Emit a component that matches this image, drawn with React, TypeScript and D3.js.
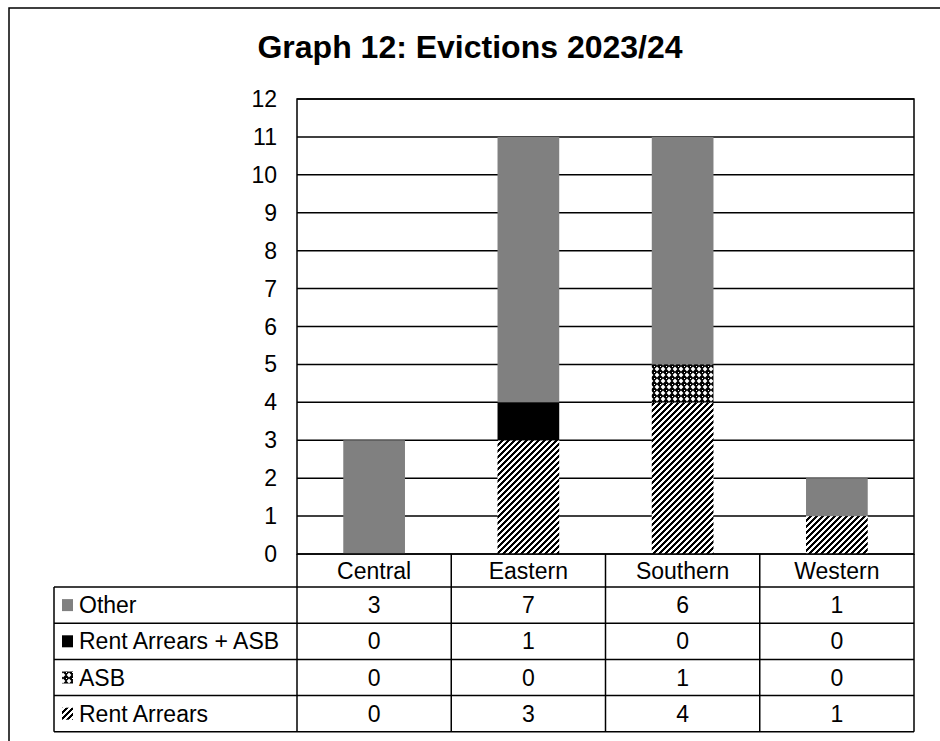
import React, { useEffect, useRef } from 'react';
import * as d3 from 'd3';

const categories = ['Central', 'Eastern', 'Southern', 'Western'];
const seriesNames = ['Rent Arrears', 'ASB', 'Rent Arrears + ASB', 'Other'];
const rentArrears = [0, 3, 4, 1];
const asb = [0, 0, 1, 0];
const rentArrearsAsb = [0, 1, 0, 0];
const other = [3, 7, 6, 1];
const yTicks = [0, 1, 2, 3, 4, 5, 6, 7, 8, 9, 10, 11, 12];
const title = 'Graph 12: Evictions 2023/24';

const W = 940;
const H = 741;
const FONT = 'Liberation Sans, Arial, sans-serif';
const FS = 23;

const App = () => {
  const svgRef = useRef<SVGSVGElement>(null);

  useEffect(() => {
    const svg = d3.select(svgRef.current);
    svg.selectAll('*').remove();

    const left = 297, right = 914, top = 99, bottom = 554;
    const tableLeft = 54;
    const headerBottom = 587;
    const rowH = 36.2;

    // patterns (pixel-based so they stay crisp)
    const defs = svg.append('defs');
    const diag = defs.append('pattern').attr('id', 'pat-ra')
      .attr('width', 6).attr('height', 6)
      .attr('patternUnits', 'userSpaceOnUse');
    diag.append('rect').attr('width', 6).attr('height', 6).attr('fill', '#fff');
    for (let r = 0; r < 6; r++) {
      for (let k = 0; k < 3; k++) {
        diag.append('rect').attr('x', (5 - r + k) % 6).attr('y', r)
          .attr('width', 1).attr('height', 1).attr('fill', '#000')
          .attr('shape-rendering', 'crispEdges');
      }
    }

    const conf = defs.append('pattern').attr('id', 'pat-asb')
      .attr('width', 6).attr('height', 6)
      .attr('patternUnits', 'userSpaceOnUse');
    conf.append('rect').attr('width', 6).attr('height', 6).attr('fill', '#000');
    conf.append('path').attr('d', 'M3,0.6 L5.4,3 L3,5.4 L0.6,3 Z').attr('fill', '#fff');
    conf.append('rect').attr('x', 0).attr('y', 0).attr('width', 1).attr('height', 1).attr('fill', '#fff');

    const fills = ['url(#pat-ra)', 'url(#pat-asb)', '#000000', '#808080'];

    // frame
    svg.append('rect').attr('x', 9).attr('y', 8).attr('width', W + 20).attr('height', H + 20)
      .attr('fill', 'none').attr('stroke', '#000').attr('stroke-width', 1.5);

    svg.append('text').attr('x', 470).attr('y', 58).attr('text-anchor', 'middle')
      .attr('font-family', FONT).attr('font-weight', 'bold').attr('font-size', 32)
      .text(title);

    const x = d3.scaleBand<string>().domain(categories).range([left, right]);
    const y = d3.scaleLinear().domain([0, 12]).range([bottom, top]);

    // gridlines
    svg.append('g').selectAll('line').data(yTicks).join('line')
      .attr('x1', left).attr('x2', right)
      .attr('y1', d => y(d)).attr('y2', d => y(d))
      .attr('stroke', '#000').attr('stroke-width', 1.5);

    // y labels
    svg.append('g').selectAll('text').data(yTicks).join('text')
      .attr('x', 277).attr('y', d => y(d)).attr('dy', '0.35em')
      .attr('text-anchor', 'end').attr('font-family', FONT).attr('font-size', FS)
      .text(d => d);

    // stacked bars
    const rows = categories.map((c, i) => ({
      cat: c,
      'Rent Arrears': rentArrears[i],
      'ASB': asb[i],
      'Rent Arrears + ASB': rentArrearsAsb[i],
      'Other': other[i],
    }));
    const stack = d3.stack<any>().keys(seriesNames)(rows);
    const bw = x.bandwidth() * 0.4;
    stack.forEach((layer, li) => {
      svg.append('g').selectAll('rect').data(layer).join('rect')
        .attr('x', d => (x(d.data.cat) as number) + (x.bandwidth() - bw) / 2)
        .attr('width', bw)
        .attr('y', d => y(d[1]))
        .attr('height', d => y(d[0]) - y(d[1]))
        .attr('fill', fills[li]);
    });

    // plot border
    svg.append('rect').attr('x', left).attr('y', top).attr('width', right - left).attr('height', bottom - top)
      .attr('fill', 'none').attr('stroke', '#000').attr('stroke-width', 1.5);

    // data table
    const g = svg.append('g');
    const tableRows = [
      { name: 'Other', vals: other, fill: '#808080' },
      { name: 'Rent Arrears + ASB', vals: rentArrearsAsb, fill: '#000000' },
      { name: 'ASB', vals: asb, fill: 'url(#pat-asb)' },
      { name: 'Rent Arrears', vals: rentArrears, fill: 'url(#pat-ra)' },
    ];
    const tableBottom = headerBottom + rowH * tableRows.length;
    const colEdges = [left, ...categories.map(c => (x(c) as number) + x.bandwidth())];
    colEdges.forEach(cx => {
      g.append('line').attr('x1', cx).attr('x2', cx).attr('y1', bottom).attr('y2', tableBottom)
        .attr('stroke', '#000').attr('stroke-width', 1.5);
    });
    g.append('line').attr('x1', tableLeft).attr('x2', tableLeft).attr('y1', headerBottom).attr('y2', tableBottom)
      .attr('stroke', '#000').attr('stroke-width', 1.5);
    g.append('line').attr('x1', tableLeft).attr('x2', right).attr('y1', headerBottom).attr('y2', headerBottom)
      .attr('stroke', '#000').attr('stroke-width', 1.5);
    tableRows.forEach((_, i) => {
      const yy = headerBottom + rowH * (i + 1);
      g.append('line').attr('x1', tableLeft).attr('x2', right).attr('y1', yy).attr('y2', yy)
        .attr('stroke', '#000').attr('stroke-width', 1.5);
    });
    g.selectAll('text.cat').data(categories).join('text').attr('class', 'cat')
      .attr('x', c => (x(c) as number) + x.bandwidth() / 2)
      .attr('y', (bottom + headerBottom) / 2).attr('dy', '0.35em')
      .attr('text-anchor', 'middle').attr('font-family', FONT).attr('font-size', FS)
      .text(c => c);
    tableRows.forEach((r, i) => {
      const cy = headerBottom + rowH * i + rowH / 2;
      g.append('rect').attr('x', 62).attr('y', cy - 6).attr('width', 11).attr('height', 12).attr('fill', r.fill);
      g.append('text').attr('x', 79).attr('y', cy).attr('dy', '0.35em')
        .attr('font-family', FONT).attr('font-size', FS).text(r.name);
      g.selectAll(null).data(r.vals).join('text')
        .attr('x', (_, j) => (x(categories[j]) as number) + x.bandwidth() / 2)
        .attr('y', cy).attr('dy', '0.35em')
        .attr('text-anchor', 'middle').attr('font-family', FONT).attr('font-size', FS)
        .text(v => v);
    });
  }, []);

  return (
    <svg ref={svgRef} width={W} height={H}
      style={{ position: 'absolute', left: 0, top: 0, background: '#fff' }} />
  );
};

export default App;
